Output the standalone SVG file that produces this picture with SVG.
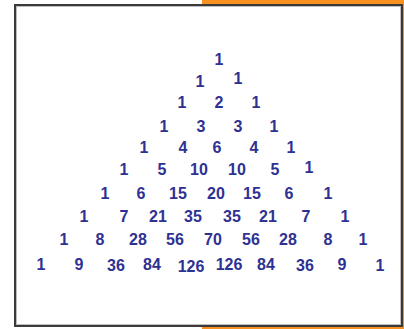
<svg xmlns="http://www.w3.org/2000/svg" width="404" height="329" viewBox="0 0 404 329">
<style>
text{font-family:"Liberation Sans",Arial,sans-serif;font-weight:bold;font-size:16px;fill:#2e3192;text-anchor:middle}
</style>
<rect x="202" y="0" width="202" height="329" fill="#f7901e"/>
<rect x="15" y="5" width="387" height="321" fill="#fff" stroke="#3a3a3a" stroke-width="2"/>
<rect x="16.5" y="6.5" width="384" height="318" fill="none" stroke="#bdbdbd" stroke-width="1"/>
<g id="rows">
<g id="r0"><text x="219" y="65">1</text></g>
<g id="r1"><text x="200" y="87">1</text><text x="238" y="84">1</text></g>
<g id="r2"><text x="182" y="108">1</text><text x="219" y="108">2</text><text x="256" y="108">1</text></g>
<g id="r3"><text x="164" y="132">1</text><text x="201" y="132">3</text><text x="238" y="132">3</text><text x="274" y="132">1</text></g>
<g id="r4"><text x="144" y="153">1</text><text x="183" y="153">4</text><text x="217" y="153">6</text><text x="254" y="153">4</text><text x="291" y="153">1</text></g>
<g id="r5"><text x="124" y="175">1</text><text x="162" y="175">5</text><text x="199" y="175">10</text><text x="237" y="175">10</text><text x="275" y="175">5</text><text x="309" y="173">1</text></g>
<g id="r6"><text x="105" y="199">1</text><text x="141" y="199">6</text><text x="178" y="199">15</text><text x="216" y="199">20</text><text x="252" y="199">15</text><text x="289" y="199">6</text><text x="328" y="199">1</text></g>
<g id="r7"><text x="84" y="222">1</text><text x="124" y="222">7</text><text x="158" y="222">21</text><text x="193" y="222">35</text><text x="232" y="222">35</text><text x="268" y="222">21</text><text x="306" y="222">7</text><text x="345" y="222">1</text></g>
<g id="r8"><text x="64" y="245">1</text><text x="100" y="245">8</text><text x="138" y="245">28</text><text x="175" y="245">56</text><text x="213" y="245">70</text><text x="251" y="245">56</text><text x="288" y="245">28</text><text x="328" y="245">8</text><text x="363" y="245">1</text></g>
<g id="r9"><text x="41" y="270">1</text><text x="79" y="270">9</text><text x="116" y="271">36</text><text x="152" y="270">84</text><text x="191" y="272">126</text><text x="229" y="270">126</text><text x="266" y="270">84</text><text x="305" y="271">36</text><text x="342" y="270">9</text><text x="380" y="271">1</text></g>
</g>
</svg>
